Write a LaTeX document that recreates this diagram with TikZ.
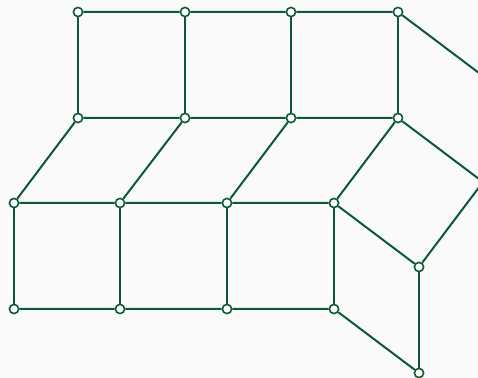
\documentclass[tikz,border=0pt]{standalone}
\usepackage{tikz}
\usetikzlibrary{positioning,calc}
\definecolor{Bond}{HTML}{0B5A33}
\definecolor{Paper}{HTML}{FAFAFA}
\tikzset{
  vtx/.style={circle,draw=Bond,line width=.8pt,fill=white,minimum size=4.6pt,inner sep=0pt},
  bond/.style={draw=Bond,line width=1pt}
}
\begin{document}
\begin{tikzpicture}[x=.5pt,y=-.5pt]
    \useasboundingbox (0,0) rectangle (478,378);
    \fill[Paper] (0,0) rectangle (478,378);
    \clip (0,0) rectangle (478,378);
    % top row
    \node[vtx] (a1) at (78,12) {}; \node[vtx] (a2) at (185,12) {};
    \node[vtx] (a3) at (291,12) {}; \node[vtx] (a4) at (398,12) {};
    \coordinate (a5) at (483,76);
    % second row
    \node[vtx] (b1) at (78,118) {}; \node[vtx] (b2) at (185,118) {};
    \node[vtx] (b3) at (291,118) {}; \node[vtx] (b4) at (398,118) {};
    \coordinate (b5) at (483,182);
    % third row
    \node[vtx] (c1) at (14,203) {}; \node[vtx] (c2) at (120,203) {};
    \node[vtx] (c3) at (227,203) {}; \node[vtx] (c4) at (334,203) {};
    \node[vtx] (c5) at (419,267) {};
    % bottom row
    \node[vtx] (d1) at (14,309) {}; \node[vtx] (d2) at (120,309) {};
    \node[vtx] (d3) at (227,309) {}; \node[vtx] (d4) at (334,309) {};
    \node[vtx] (d5) at (419,373) {};
    \draw[bond] (a1)--(a2) (a2)--(a3) (a3)--(a4) (a4)--(a5);
    \draw[bond] (b1)--(b2) (b2)--(b3) (b3)--(b4) (b4)--(b5);
    \draw[bond] (c1)--(c2) (c2)--(c3) (c3)--(c4) (c4)--(c5) (c5)--(b5);
    \draw[bond] (d1)--(d2) (d2)--(d3) (d3)--(d4) (d4)--(d5);
    \draw[bond] (a1)--(b1) (a2)--(b2) (a3)--(b3) (a4)--(b4);
    \draw[bond] (b1)--(c1) (b2)--(c2) (b3)--(c3) (b4)--(c4);
    \draw[bond] (c1)--(d1) (c2)--(d2) (c3)--(d3) (c4)--(d4) (c5)--(d5);
  \end{tikzpicture}
\end{document}
